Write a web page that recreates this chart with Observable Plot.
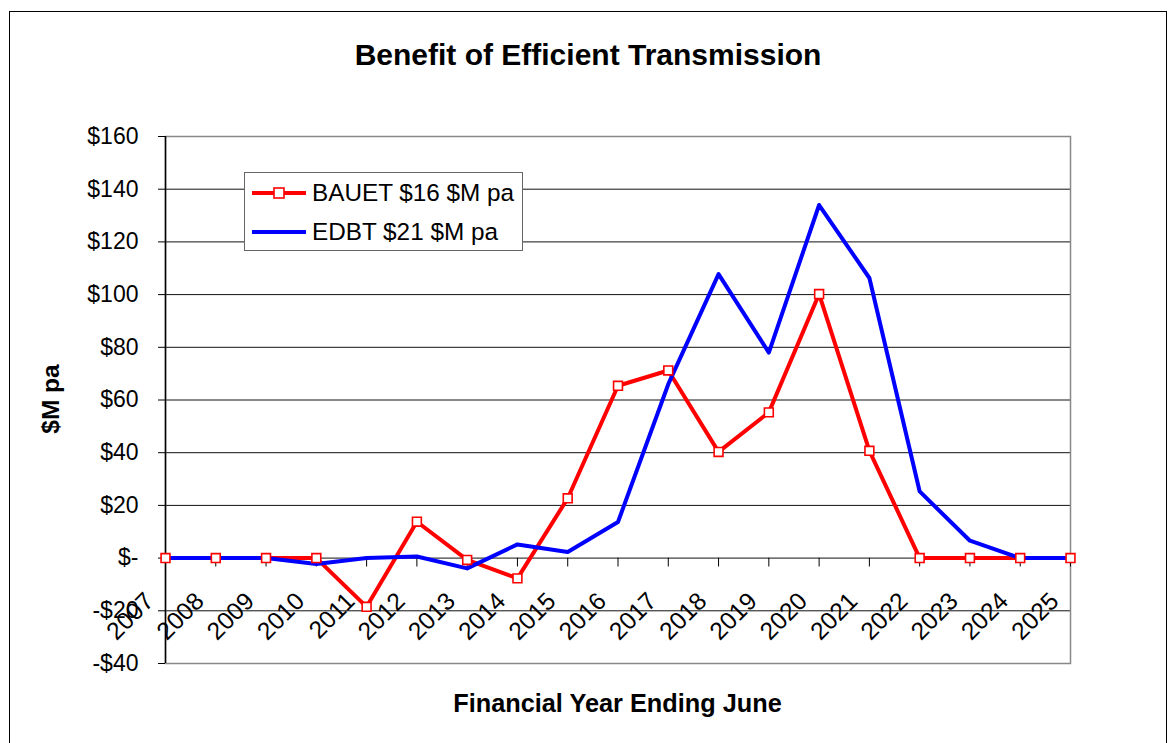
<!DOCTYPE html>
<html><head><meta charset="utf-8">
<script src="https://cdn.jsdelivr.net/npm/d3@7"></script>
<script src="https://cdn.jsdelivr.net/npm/@observablehq/plot@0.6"></script>
<style>
html,body{margin:0;padding:0;background:#fff;}
body{font-family:"Liberation Sans",Arial,sans-serif;color:#000;overflow:hidden;}
#wrap{position:relative;width:1172px;height:743px;overflow:hidden;}
#border{position:absolute;left:9px;top:11px;width:1156px;height:800px;border:1.5px solid #000;}
#chart{position:absolute;left:0;top:0;}
#title{position:absolute;left:9px;width:1158px;top:40px;line-height:30px;text-align:center;font-weight:bold;font-size:30px;white-space:nowrap;}
#xtitle{position:absolute;left:165px;width:905px;top:691px;line-height:24px;text-align:center;font-weight:bold;font-size:25.3px;white-space:nowrap;}
#ytitle{position:absolute;left:51px;top:399px;line-height:24px;font-weight:bold;font-size:24.5px;white-space:nowrap;transform:translate(-50%,-50%) rotate(-90deg);}
#legend{position:absolute;left:244px;top:172px;width:277px;height:77px;border:1px solid #666;background:#fff;}
.row{position:absolute;left:0;height:28px;display:flex;align-items:center;font-size:24.3px;line-height:28px;white-space:nowrap;}
.row svg{margin-left:7px;margin-right:6px;}
</style>
</head><body>
<div id="wrap">
  <div id="border"></div>
  <div id="chart"></div>
  <div id="title">Benefit of Efficient Transmission</div>
  <div id="xtitle">Financial Year Ending June</div>
  <div id="ytitle">$M pa</div>
  <div id="legend"></div>
</div>
<script>
// ---- data ----
const years = [2007,2008,2009,2010,2011,2012,2013,2014,2015,2016,2017,2018,2019,2020,2021,2022,2023,2024,2025];
const bauet = [0,0,0,0,-18.5,13.8,-0.7,-7.7,22.7,65.4,71.2,40.3,55.3,100.2,40.7,0,0,0,0];
const edbt  = [0,0,0,-2.2,0,0.6,-3.9,5.2,2.3,13.7,66,107.8,78,134.0,106.3,25.3,6.6,0,0];
const yTicks = [-40,-20,0,20,40,60,80,100,120,140,160];
const seriesNames = ["BAUET $16 $M pa","EDBT $21 $M pa"];
const seriesColors = ["#ff0000","#0000ff"];

const fmt = d => d === 0 ? "$-" : (d < 0 ? "-$" + (-d) : "$" + d);
const data = years.map((year,i) => ({year, bauet: bauet[i], edbt: edbt[i]}));
const tickShape = {draw(ctx, l){ ctx.moveTo(0,0); ctx.lineTo(0,-l); }};

const chart = Plot.plot({
  width: 1172, height: 743,
  marginLeft: 165, marginRight: 102, marginTop: 136, marginBottom: 80,
  x: {type: "linear", domain: [years[0], years[years.length-1]], axis: null},
  y: {domain: [yTicks[0], yTicks[yTicks.length-1]]},
  style: {fontFamily: "'Liberation Sans', Arial, sans-serif", fontSize: "23px", background: "transparent", overflow: "visible", color: "#000"},
  marks: [
    Plot.ruleY(yTicks.slice(1), {stroke: "#111", strokeWidth: 1}),
    Plot.frame({stroke: "#888", strokeWidth: 1.5}),
    Plot.ruleX([years[0]], {stroke: "#000", strokeWidth: 1.5}),
    Plot.axisY(yTicks, {tickSize: 7, tickPadding: 20, tickFormat: fmt, fontSize: 23, label: null, stroke: "#000"}),
    Plot.vector(years, {x: d => d, y: () => 0, length: 8, rotate: 180, anchor: "start", shape: tickShape, stroke: "#000", strokeWidth: 1}),
    Plot.text(years, {x: d => d, y: () => 0, text: d => String(d), rotate: -45, textAnchor: "end", dx: -16, dy: 39, fontSize: 24.5, fill: "#000"}),
    Plot.line(data, {x: "year", y: "bauet", stroke: seriesColors[0], strokeWidth: 4}),
    Plot.line(data, {x: "year", y: "edbt", stroke: seriesColors[1], strokeWidth: 4}),
    Plot.dot(data, {x: "year", y: "bauet", symbol: "square", r: 5, fill: "#fff", stroke: seriesColors[0], strokeWidth: 1.6})
  ]
});
document.getElementById("chart").appendChild(chart);

// legend
const legend = document.getElementById("legend");
const rowCenters = [21, 60];
seriesNames.forEach((name, i) => {
  const row = document.createElement("div");
  row.className = "row";
  row.style.top = (rowCenters[i] - 15) + "px";
  const marker = i === 0 ? `<rect x="22" y="2" width="10" height="10" fill="#fff" stroke="${seriesColors[i]}" stroke-width="1.6"/>` : "";
  row.innerHTML = `<svg width="54" height="14" style="overflow:visible"><line x1="0" x2="54" y1="7" y2="7" stroke="${seriesColors[i]}" stroke-width="4"/>${marker}</svg><span>${name}</span>`;
  legend.appendChild(row);
});
</script>
</body></html>
